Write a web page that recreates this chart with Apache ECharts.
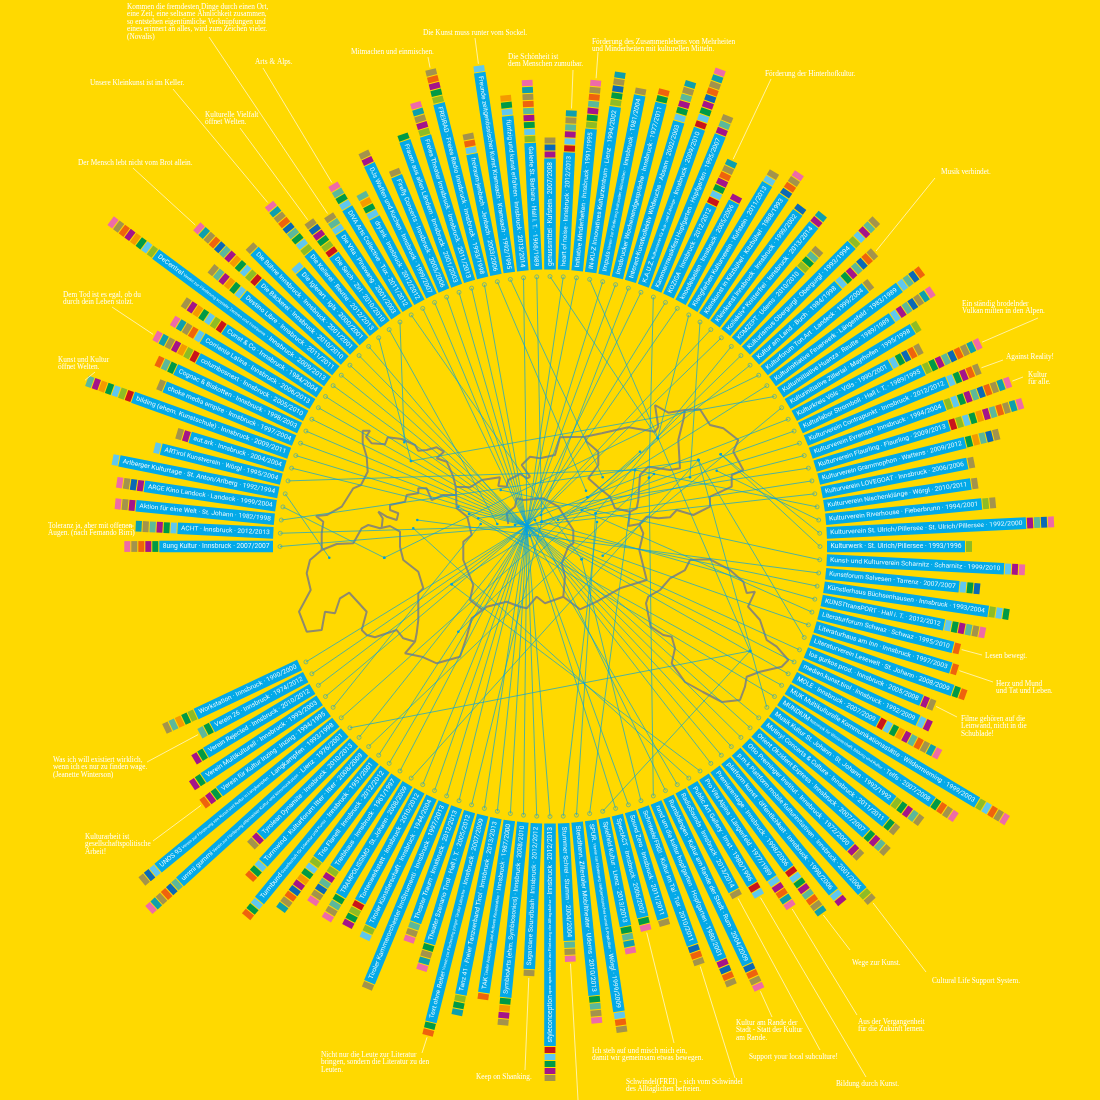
<!DOCTYPE html>
<html lang="de">
<head>
<meta charset="UTF-8">
<title>Kulturinitiativen Tirol</title>
<style>
html,body{margin:0;padding:0;background:#ffd900}
#main{width:1100px;height:1100px}
</style>
</head>
<body>
<div id="main"></div>
<script src="https://cdn.jsdelivr.net/npm/echarts@6/dist/echarts.min.js"></script>
<script>
// one entry per initiative, clockwise from the left
var barNames = ["8ung Kultur","ACHT","Aktion für eine Welt","ARGE Kino Landeck","Arlberger Kulturtage","ARTirol Kunstverein","aut.ark","bilding (ehem. Kunstschule)","choke media empire","Cognac & Biskotten","columbosnext","Corriente Latina","Cunst & Co","DeCentral","Destino Libre","Die Bäckerei","Die Bühne Innsbruck","Die Iglerart","Die Kellerei","Die Seich","Die Vita","DIVA Arts Collective","dry.ink","DJs Waffen und Kuchen","Firefly Concerts","Frauen aus allen Ländern","Freies Theater Innsbruck","FREIRAD · Freies Radio Innsbruck","freiraum-jenbach","Freunde zeitgenössischer Kunst Kramsach","fünfzig und kunst erfahren","Galerie St. Barbara","genussmittel","heart of noise","Initiative Minderheiten","IN-KU-Z Innovatives Kulturzentrum","Impuls","Innsbrucker Wochenendgespräche","Interact-Kunstkollektiv Wildwuchs","K.A.U.Z.","Kammermusikfest Hopfgarten","KOZIGA","knoedelseilen","Klangfarben Kulturverein","Kleinkunst in Kitzbühel","Kleinkunst Innsbruck","Kollektiv* Knitterfrei","KOMZEPT","Kulturismus Obergurgl","Kultur am Land","Kulturforum Ton.Art","Kulturinitiative Feuerwerk","Kulturinitiative Huanza","Kulturinitiative Zillertal","Kulturkreis Völs","Kulturlabor Stromboli","Kulturverein Contrapunkt","Kulturverein Evrensel","Kulturverein Flaurling","Kulturverein Grammophon","Kulturverein LOVEGOAT","Kulturverein Nischenklänge","Kulturverein Riverhouse","Kulturverein St. Ulrich/Pillersee","Kulturwerk","Kunst- und Kulturverein Scharnitz","Kunstforum Salvesen","Künstlerhaus Büchsenhausen","KUNSTtransPORT","Literaturforum Schwaz","Literaturhaus am Inn","Literaturverein Lesewelt","los gurkos prod.","medien.kunst.tirol","MOLE","MUK Multikulturelle Kommunikationsstätte","MUNDIUM","Musik Kultur St. Johann","Mutiny! Concerts & Culture","Orient Okzident Express","Otto Preminger Institut","p.m.k Plattform mobile Kulturinitiativen","platform kunst · öffentlichkeit","Premierentage","Pro Vita Alpina","Public Art Gallery","RadioSounds","Rumbhängen · Kultur am Rande der Stadt","rund um die kultur hopfgarten","Schmiede/FRG! · Kultur im Tal","Sound Zero","SpectACT","Spielfeld Kultur","SPUR.","Steudltenn. Zillertaler Mobiltheater","Stummer Schrei","styleconception","Sugarcane Soundbash","SymbioArts (ehm. Symbiosonics)","TAK","Tanz 41 · Freier Tanzverband Tirol","Text ohne Reiter","Theater Szenario Tirol","Theater Traum","Tiroler Kammerorchester InnStrumenti","Tiroler Künstlerschaft","Tortenwerkstatt","TRAMPOLISSIMO","Treibhaus","Trio Flanell","Turmbund","Turmwind · Kulturforum Itter","Tyrolean Dynamite","ummi gummi","UNOS 93","Verein für Kultur Inzing","Verein Multikulturell","Verein Rejected","Verein 26","Workstation"];
// small print after the name
var barSubs = {13:"Verein zur Förderung sozialer Zentren und Freiräume",36:"Verein zur Förderung kultureller Aktivitäten",39:"Kulturverein für Aus- und Zuhörige",76:"Netzwerk für Wissenschaft, Bildung und Kultur",93:"Verein zur Förderung zeitgenössischer Kunst & Popkultur",96:"open space Verein zur Förderung der Alltagskultur",99:"Tiroler Autorinnen und Autoren Kooperative",101:"Verein zur Förderung junger Tiroler Literatur",110:"Gesellschaft für Literatur und Kunst",113:"Verein zur Förderung alternativer Kultur und Kommunikation",114:"Verein zur Förderung von Kunst und Kultur in Langkampfen"};
var barPlaces = ["Innsbruck","Innsbruck","St. Johann","Landeck","St. Anton/Arlberg","Wörgl","Innsbruck","Innsbruck","Innsbruck","Innsbruck","Innsbruck","Innsbruck","Innsbruck","Innsbruck","Innsbruck","Innsbruck","Innsbruck","Igls","Reutte","Zirl","Pinswang","Tux","Innsbruck","Innsbruck","Innsbruck","Innsbruck","Innsbruck","Innsbruck","Jenbach","Kramsach","Innsbruck","Hall i. T.","Kufstein","Innsbruck","Innsbruck","Lienz","Innsbruck","Innsbruck","Absam","Innsbruck","Hopfgarten","Innsbruck","Innsbruck","Kufstein","Kitzbühel","Innsbruck","Innsbruck","Uderns","Obergurgl","Buch","Landeck","Längenfeld","Reutte","Mayrhofen","Völs","Hall i. T.","Innsbruck","Innsbruck","Flaurling","Wattens","Innsbruck","Wörgl","Fieberbrunn","St. Ulrich/Pillersee","St. Ulrich/Pillersee","Scharnitz","Tarrenz","Innsbruck","Hall i. T.","Schwaz","Innsbruck","St. Johann","Innsbruck","Innsbruck","Innsbruck","Wildermieming","Telfs","St. Johann","Innsbruck","Innsbruck","Innsbruck","Innsbruck","Innsbruck","Innsbruck","Längenfeld","Imst","Innsbruck","Rum","Hopfgarten","Tux","Innsbruck","Innsbruck","Lienz","Wörgl","Uderns","Stumm","Innsbruck","Innsbruck","Innsbruck","Innsbruck","Innsbruck","Innsbruck","Hall i. T.","Innsbruck","Innsbruck","Innsbruck","Innsbruck","St. Johann","Innsbruck","Innsbruck","Innsbruck","Itter","Innsbruck","Lienz","Langkampfen","Inzing","Innsbruck","Innsbruck","Innsbruck","Innsbruck"];
var barYears = ["2007/2007","2012/2013","1982/1998","1999/2004","1992/1994","1995/2004","2004/2004","2009/2011","1997/2004","1998/2003","2005/2010","2006/2013","1984/2004","2009/2013","2011/2011","2010/2010","2001/2001","2000/2001","2012/2013","2010/2010","2001/2003","2011/2012","2012/2012","1999/2007","2005/2006","2001/2003","2011/2013","1993/1998","2003/2006","1992/1995","2013/2014","1968/1989","2007/2008","2012/2013","1991/1995","1994/2002","1981/2004","1977/2011","2002/2003","2009/2010","1995/2007","2012/2012","2005/2006","2011/2013","1988/1993","1999/2002","2013/2014","2010/2010","1993/1994","1984/1998","1999/2004","1983/1989","1989/1989","1995/1998","1990/2001","1989/1995","2012/2012","1994/2004","2009/2013","2009/2012","2006/2006","2010/2011","1994/2001","1992/2000","1993/1996","1999/2010","2007/2007","1993/2004","2012/2012","1995/2010","1997/2003","2008/2009","2005/2008","1992/2009","2007/2009","1999/2003","2007/2008","1992/1992","2011/2011","2007/2007","1972/2000","2001/2006","1998/2006","1998/2006","1977/1989","1980/1996","2013/2014","2004/2009","1980/2001","2010/2011","2011/2011","2006/2007","2013/2013","1999/2009","2010/2013","2004/2004","2012/2013","2012/2012","2008/2010","1987/2000","2013/2013","2007/2009","2005/2012","2012/2013","1997/2013","1944/2004","2010/2012","2008/2009","1961/1997","2012/2012","1951/2001","2008/2009","2010/2013","1976/2001","1993/1998","1994/1995","1993/2003","2010/2012","1974/2012","1990/2000"];
// radius at which the blue part of each bar ends
var barEnd = [390.7,372.8,416,410,439,400.8,376,442.8,417,414,399,405,391.5,491,396.6,392.7,418,372,380,362.8,377.5,394.3,372.4,422.5,400.8,430.8,429,456.7,400,479,432.5,404,388,394.5,419.5,444.5,460,457,443.8,443.7,445,377.5,390.5,422.6,421,416,416,373,426.5,389,408,435,411.3,423,385.8,413,430,419,417,428,425.5,425.4,433.8,476.6,415,454.5,411,443,401.7,415.4,418.8,427.5,402,407,372,498,460,427,434.6,427,425,465,446.8,400.8,399,393.4,390,462,447,423,389,382,387,470,451,394.7,499.5,423,453,451,456.8,490,415,399,471.6,420,402.8,407,387,389.4,458,427,409,499.4,507,411.5,416.6,401,383,391.5];
// field tags per bar, one letter per block, see tagColors
var barTags = ["DFIJL","CDFGJK","FJL","FHJL","C","C","FJ","ABCDEFG","J","DGI","ABEFJKL","CIJKL","ABCDEFJ","BCDEFIJL","CDEFGJ","ABCDEFGHIJKL","J","C","BCDGHIJKL","ABDFHJ","CGJ","CDGL","CDEG","FJ","J","D","BFJKL","BDFIJ","CIJ","C","CDE","BCDFGIJKL","FHJ","ACFGJK","BDFGIJL","BDHJK","J","DI","CDFGJK","ACDFHIJKL","FGJ","ACDFIJK","F","CJ","HIJL","H","FK","BDGJ","BCFGJ","CDFGHIJ","J","CGHI","CFGHJKL","B","CDHIJ","BDFGHIJKL","CDFIJ","BCDFGHIJKL","ABCDEFGIJKL","DEGHJ","J","J","BJ","FGHL","B","CFL","CDH","BCD","CDFGJL","I","I","DI","FJ","CF","ACDEFGIJKL","BCIJL","DIJL","BDFGJ","DJ","DFGJ","FJ","BJ","CF","ACDFGIJK","CFIKL","AC","J","HIJL","FHIJ","HIJ","J","DL","DGKL","CIJ","DGJL","GJL","ACDFJ","J","DEFJ","I","BDK","DI","DJKL","GJL","J","BC","ABDF","DGJL","BFGHJL","BCDEFHIJK","CDI","CDI","FJ","GHIJKL","CHJ","DFI","DF","DF","DG","BDEGJ"];
var tagColors = {A:"#c9151b",B:"#8ebc25",C:"#60c7ef",D:"#009a46",E:"#f49a00",F:"#a4148a",G:"#5cb89b",H:"#0b69b6",I:"#ef630d",J:"#a3934c",K:"#0e9fad",L:"#ee6ba8"};

var townNames = ["Innsbruck","St. Johann","Landeck","St. Anton/Arlberg","Wörgl","Reutte","Zirl","Pinswang","Tux","Jenbach","Kramsach","Hall i. T.","Kufstein","Lienz","Absam","Hopfgarten","Kitzbühel","Uderns","Obergurgl","Buch","Mayrhofen","Längenfeld","Igls","Völs","Flaurling","Wattens","Fieberbrunn","St. Ulrich/Pillersee","Scharnitz","Tarrenz","Schwaz","Telfs","Wildermieming","Imst","Rum","Stumm","Langkampfen","Inzing","Itter"];
var townX = [527,698.3,384.3,329.3,635,411,497.3,404.3,581.7,586,602.7,541.7,657.7,750,541,649,690,595.7,458.3,587.3,602.7,451.7,530,515,478.3,558,716.7,720.7,500.7,417.3,581.7,469,458.3,413.3,535,597,640,480.7,654];
var townY = [526,460,557.7,557.7,470,461,524,442.3,559.3,490.7,477.3,521.7,438.3,651,515,477.7,477.3,513.3,631.7,497.3,555.7,584.3,536,525,518.3,520,470.7,454.3,490,520,510,514,506.7,528.3,520,522,451.7,524,474];

// outline of the province
var mapWest = [[321.7,550],[310,560],[306.7,573.3],[310.7,590],[299,611.7],[306.7,631.7],[321.7,630],[325,611.7],[335,613.3],[340,598.3],[349.3,592.7],[366.7,611.7],[361.7,630],[366.7,635],[375,637.3],[396.7,630],[403.3,638.3],[415,641.7],[405,653.3],[421.7,656.7],[436.7,663.3],[460,656.7],[466.7,636.7],[471.7,618.3],[482.7,610],[470,600],[473.3,585],[463.3,560],[463.3,541.7],[471.7,535],[467.3,516.7],[456.7,508.3],[455.7,486.7]];
var mapOberland = [[321.7,550],[336.7,544],[353.3,543.3],[361.7,528.3],[368.3,525],[380,528.3],[390,526],[400,531.7],[400,546.7],[403.3,560],[418.3,571.7],[423.3,588.3],[418.3,593.3],[418.3,620],[416.7,633.3],[415,641.7]];
var mapNorth = [[321.7,550],[321.7,533.3],[323.3,521.7],[316,516],[326.7,515],[341.7,506.7],[353.3,488.3],[361,485],[367.7,471.7],[366.7,456.7],[362.7,443.3],[362.7,430.7],[370,430.7],[366,436.7],[371.7,443.3],[385,444.3],[387.7,437.3],[401.7,439],[415,445],[418.3,450.7],[426.7,450],[436.7,447.3],[444,451.7],[436.7,458.3],[446.7,461.7],[453.3,476.7],[455.7,486.7],[470,487.3],[481.7,480],[500,477.3],[498.3,486],[506.7,486.7],[508.3,480],[520,474],[527.3,478.3],[530,476.7],[521.7,465],[530,456.7],[540,458.3],[555,455],[560,437.3],[585,436.7],[601.7,433.3],[628.3,427.3],[655,431.7],[658.3,426.7],[655,405],[668.3,412.7],[685,410],[700,409.3],[710,425],[723.3,428.3],[738.3,440],[733.3,451.7],[743.3,470],[731.7,475],[731.7,486.7],[710,496.7],[710,506.7],[693.3,515],[676.7,510],[670,517.3],[658.3,518.3],[646.7,516.7],[639.3,524],[628.3,526],[630,511.7]];
var mapAusserfern = [[378.3,511.7],[386.7,516.7],[396.7,520],[398.3,513.3],[390,510],[390,505],[405,501.7],[406.7,495],[418.3,493.3],[418.3,488.3],[426.7,488.3],[431.7,500],[443.3,495],[455.7,495]];
var mapHook = [[378.3,511.7],[382.7,518.3],[381.7,527.3]];
var mapSouth = [[482.7,610],[486.7,606.7],[506.7,601.7],[520,606.7],[526.7,608.3],[536.7,596.7],[545,603.3],[563.3,596.7],[580,609.3],[596.7,601.7],[620,588.3],[646.7,580],[639.3,550],[643.3,533.3],[639.3,524]];
var mapCentre = [[563.3,596.7],[565,576.7],[561.7,563.3],[568.3,546.7],[573.3,543.3],[573.3,530],[558.3,506.7],[543.3,498.3],[523.3,500],[516.7,498.3],[515,506.7],[506.7,513.3],[508.3,524]];
var mapUnterland = [[585,436.7],[586.7,441.7],[598.3,451.7],[598.3,465],[588.3,478.3],[598.3,487.3],[610,496.7],[615,508.3],[630,511.7],[636.7,508.3],[638.3,500],[640,475],[648.3,466.7],[670,470],[680,468.3],[678.3,440],[683.3,420],[685,410]];
var mapEast = [[690,560],[710,559.3],[730,570],[743.3,581.7],[746.7,593],[755,591.7],[748,606.7],[760,620],[766.7,640],[776.7,646.7],[788.3,660],[781.7,666.7],[760,671.7],[746.7,676.7],[745,686.7],[740,700],[722,702],[703,692],[685,682],[671.7,663.3],[675,648.3],[671.7,636.7],[663.3,635],[650.7,626.7],[646,603.3],[648.3,596.7],[660,590],[670,578.3],[685,570],[690,560]];
var mapLines = [mapWest,mapOberland,mapNorth,mapAusserfern,mapHook,mapSouth,mapCentre,mapUnterland,mapEast];

// quotes around the ring
var noteBars = [20,18,19,21,15,10,7,1,27,29,33,34,41,49,55,56,57,69,70,72,83,81,84,85,86,87,89,91,95,97,101,115,118];
var noteTexts = [
"Kommen die fremdesten Dinge durch einen Ort,\neine Zeit, eine seltsame Ähnlichkeit zusammen,\nso entstehen eigentümliche Verknüpfungen und\neines erinnert an alles, wird zum Zeichen vieler.\n(Novalis)",
"Unsere Kleinkunst ist im Keller.","Kulturelle Vielfalt\nöffnet Welten.","Arts & Alps.","Der Mensch lebt nicht vom Brot allein.","Dem Tod ist es egal, ob du\ndurch dein Leben stolzt.","Kunst und Kultur\nöffnet Welten.","Toleranz ja, aber mit offenen\nAugen. (nach Fernando Birri)","Mitmachen und einmischen.","Die Kunst muss runter vom Sockel.","Die Schönheit ist\ndem Menschen zumutbar.","Förderung des Zusammenlebens von Mehrheiten\nund Minderheiten mit kulturellen Mitteln.","Förderung der Hinterhofkultur.","Musik verbindet.","Ein ständig brodelnder\nVulkan mitten in den Alpen.","Against Reality!","Kultur\nfür alle.","Lesen bewegt.","Herz und Mund\nund Tat und Leben.","Filme gehören auf die\nLeinwand, nicht in die\nSchublade!","Wege zur Kunst.","Cultural Life Support System.","Aus der Vergangenheit\nfür die Zukunft lernen.","Bildung durch Kunst.","Support your local subculture!","Kultur am Rande der\nStadt - Statt der Kultur\nam Rande.","Schwindel(FREI) - sich vom Schwindel\ndes Alltäglichen befreien.","Ich steh auf und misch mich ein,\ndamit wir gemeinsam etwas bewegen.","","Keep on Shanking.","Nicht nur die Leute zur Literatur\nbringen, sondern die Literatur zu den\nLeuten.","Kulturarbeit ist\ngesellschaftspolitische\nArbeit!","Was ich will existiert wirklich,\nwenn ich es nur zu finden wage.\n(Jeanette Winterson)"];
var noteX = [127,90,205,255,78,63,58,48,351,423,508,592,765,941,962,1006,1028,985,996,961,852,932,858,836,749,736,626,592,0,476,321,85,53];
var noteY = [7,83,115,62,163,295,360,526,52,33,57,42,74,172,304,357,375,656,684,719,963,981,1022,1084,1057,1023,1082,1051,0,1077,1055,837,760];
var noteEndX = [209,173,240,263,133,112,95,128,428,475,573,598,771,935,1038,1003,1023,982,993,957,850,926,857,866,820,772,735,674,578,525,422,153,147];
var noteEndY = [37,89,128,68,168,307,372,526,57,38,70,52,79,178,318,360,377,655,682,717,950,972,1015,1077,1050,1017,1078,1043,1100,1070,1053,841,762];

var center = [550,546.5];
var angleStep = 360 / 128;  // 120 bars, the other 8 slots stay empty
var ringStart = 277;
var dotRadius = 270;
var blockPitch = 7;

function ringPoint(i, r) {
    var a = i * angleStep * Math.PI / 180;
    return [center[0] - r * Math.cos(a), center[1] - r * Math.sin(a)];
}
function townOf(name) {
    var k = townNames.indexOf(name);
    return [townX[k], townY[k]];
}

var measure = document.createElement("canvas").getContext("2d");
var labelFont = "400 6.3px Roboto";
var subFont = "400 4px Roboto";
function labelWidth(i) {
    measure.font = labelFont;
    var w = measure.measureText(barNames[i] + " · " + barPlaces[i] + " · " + barYears[i]).width;
    if (barSubs[i]) {
        measure.font = subFont;
        w += measure.measureText(" " + barSubs[i]).width;
    }
    return w;
}

function renderBar(params, api) {
    var i = params.dataIndex;
    var end = barEnd[i];
    var p0 = api.coord([ringStart, i]);
    var p1 = api.coord([end, i]);
    var len = Math.hypot(p1[0] - p0[0], p1[1] - p0[1]);
    var rot = Math.atan2(p0[1] - p1[1], p1[0] - p0[0]);
    var kids = [{
        type: "rect", x: p0[0], y: p0[1], rotation: rot,
        shape: {x: 0, y: -5.8, width: len, height: 11.6},
        style: {fill: "#03a9e8"}
    }];
    barTags[i].split("").forEach(function (tag, k) {
        var b = api.coord([end + 1 + k * blockPitch, i]);
        kids.push({
            type: "rect", x: b[0], y: b[1], rotation: rot,
            shape: {x: 0, y: -5.4, width: blockPitch - 1, height: 10.8},
            style: {fill: tagColors[tag]}
        });
    });
    // right half reads outwards, left half reads towards the centre
    var outward = i >= 32 && i < 96;
    var a = outward ? api.coord([ringStart + 3.5, i]) : api.coord([end - 3.5, i]);
    var s = Math.max(0.6, Math.min(1.3, (len - 7) / labelWidth(i)));
    var txt = "{t|" + barNames[i] + "}" + (barSubs[i] ? "{s| " + barSubs[i] + "}" : "") + "{t| · " + barPlaces[i] + " · " + barYears[i] + "}";
    kids.push({
        type: "text", x: a[0], y: a[1], rotation: outward ? rot : rot + Math.PI, scaleX: s,
        style: {
            text: txt, align: "left", verticalAlign: "middle",
            rich: {
                t: {font: labelFont, fill: "#e6f8fe", lineHeight: 9},
                s: {font: subFont, fill: "#e6f8fe", lineHeight: 9}
            }
        }
    });
    return {type: "group", children: kids};
}

function renderLink(params, api) {
    var i = params.dataIndex;
    var a = ringPoint(i, dotRadius);
    var t = townOf(barPlaces[i]);
    var p = api.coord(a), q = api.coord(t);
    return {type: "group", children: [
        {type: "line", shape: {x1: p[0], y1: p[1], x2: q[0], y2: q[1]}, style: {stroke: "rgba(0,160,225,0.85)", lineWidth: 0.8}},
        {type: "circle", shape: {cx: p[0], cy: p[1], r: 2}, style: {fill: "none", stroke: "#43a9ab", lineWidth: 0.7}},
        {type: "circle", shape: {cx: q[0], cy: q[1], r: 1.3}, style: {fill: "#00a0e0"}}
    ]};
}

function renderNote(params, api) {
    var n = params.dataIndex;
    var i = noteBars[n];
    var outer = barEnd[i] + barTags[i].length * blockPitch + 2;
    var p = api.coord(ringPoint(i, outer));
    var q = api.coord([noteEndX[n], noteEndY[n]]);
    var t = api.coord([noteX[n], noteY[n]]);
    return {type: "group", children: [
        {type: "line", shape: {x1: p[0], y1: p[1], x2: q[0], y2: q[1]}, style: {stroke: "#fff8cf", lineWidth: 0.8}},
        {type: "text", x: t[0], y: t[1] - 3.7, style: {text: noteTexts[n], fill: "#ffffff", font: "7.3px 'Liberation Serif'", lineHeight: 7.5, align: "left", verticalAlign: "top"}}
    ]};
}

var series = mapLines.map(function (pts) {
    return {type: "line", data: pts, showSymbol: false, silent: true, z: 1, lineStyle: {color: "#8f8a6c", width: 2}, clip: false};
});
series.push({type: "custom", coordinateSystem: "cartesian2d", renderItem: renderLink, z: 2, clip: false, silent: true,
    encode: {x: 0, y: 1}, data: barEnd.map(function (r, i) { return townOf(barPlaces[i]); })});
series.push({type: "custom", coordinateSystem: "polar", renderItem: renderBar, z: 3, silent: true, clip: false,
    encode: {radius: 0, angle: 1}, data: barEnd.map(function (r, i) { return [r, i]; })});
series.push({type: "custom", coordinateSystem: "cartesian2d", renderItem: renderNote, z: 4, clip: false, silent: true,
    encode: {x: 0, y: 1}, data: noteX.map(function (x, n) { return [x, noteY[n]]; })});

var chart = echarts.init(document.getElementById("main"), null, {renderer: "canvas"});
chart.setOption({
    animation: false,
    backgroundColor: "#ffd900",
    grid: {left: 0, right: 0, top: 0, bottom: 0},
    xAxis: {type: "value", min: 0, max: 1100, show: false},
    yAxis: {type: "value", min: 0, max: 1100, inverse: true, show: false},
    polar: {center: [center[0], center[1]], radius: 550},
    radiusAxis: {type: "value", min: 0, max: 550, show: false},
    angleAxis: {type: "value", min: 0, max: 128, startAngle: 180, show: false},
    series: series
});
</script>
</body>
</html>
